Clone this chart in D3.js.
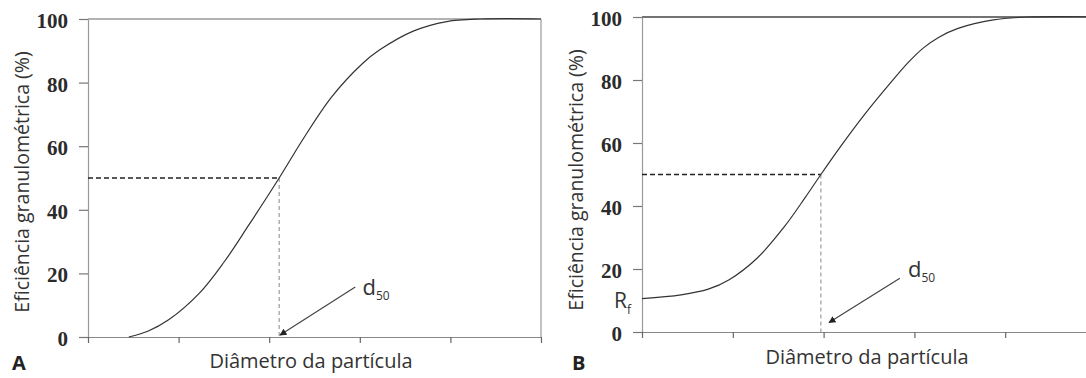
<!DOCTYPE html>
<html>
<head>
<meta charset="utf-8">
<script src="https://cdn.jsdelivr.net/npm/d3@7"></script>
<style>
  body { margin: 0; background: #fff; }
  svg { display: block; }
  .tick-label { font-family: "Liberation Serif", serif; font-weight: bold; font-size: 21px; fill: #2b2b2b; }
  .title { font-family: "Open Sans", sans-serif; font-size: 19.5px; fill: #333; }
  .panel-letter { font-family: "Open Sans", sans-serif; font-weight: bold; font-size: 20px; fill: #222; }
</style>
</head>
<body>
<script>
// data (x in tick units, y in %)
var xTicks = [0, 1, 2, 3, 4, 5];
var yTicks = [0, 20, 40, 60, 80, 100];

var diamA = [0.45, 0.66, 0.89, 1.23, 1.50, 1.77, 2.11, 2.38, 2.69, 3.03, 3.22, 3.59, 3.96, 4.33, 5.0];
var effA  = [0, 1.8, 5.4, 13.8, 23.5, 35, 50, 62.5, 75.5, 86, 90.3, 96.2, 99.2, 100, 100];

var diamB = [0, 0.43, 0.73, 0.96, 1.27, 1.57, 1.80, 1.97, 2.19, 2.45, 2.72, 2.93, 3.10, 3.27, 3.48, 3.87, 4.25, 5.1];
var effB  = [10.6, 11.8, 13.6, 16.6, 23.5, 33.5, 42.8, 50, 59, 69, 78.5, 85.5, 90.2, 93.6, 96.4, 99.1, 100, 100];

var d50A = 2.11, d50B = 1.97;
var rfB = 10.6;

var width = 1086, height = 378;

var svg = d3.select("body").append("svg")
    .attr("width", width)
    .attr("height", height);

svg.append("rect").attr("width", width).attr("height", height).attr("fill", "#fff");

var defs = svg.append("defs");
defs.append("marker")
    .attr("id", "head")
    .attr("viewBox", "0 0 10 10")
    .attr("refX", 9).attr("refY", 5)
    .attr("markerWidth", 7).attr("markerHeight", 7)
    .attr("markerUnits", "userSpaceOnUse")
    .attr("orient", "auto")
    .append("path")
    .attr("d", "M0,0L10,5L0,10Z")
    .attr("fill", "#222");

function panel(opt) {
    var x = d3.scaleLinear().domain([0, 5]).range([opt.left, opt.right]);
    var y = d3.scaleLinear().domain([0, 100]).range([opt.bottom, opt.top]);
    var g = svg.append("g");

    // frame on top (and right for A)
    g.append("line")
        .attr("x1", x(0)).attr("x2", opt.frameRight)
        .attr("y1", y(100)).attr("y2", y(100))
        .attr("stroke", opt.topColor).attr("stroke-width", 1.3);
    if (opt.rightBorder) {
        g.append("line")
            .attr("x1", x(5)).attr("x2", x(5))
            .attr("y1", y(100)).attr("y2", y(0))
            .attr("stroke", "#999").attr("stroke-width", 1.2);
    }

    // axes
    var yAxis = g.append("g")
        .attr("transform", "translate(" + x(0) + ",0)")
        .call(d3.axisLeft(y).tickValues(yTicks).tickSize(9).tickSizeOuter(0).tickPadding(11));
    yAxis.select(".domain").attr("stroke", "#999").attr("stroke-width", 1.2);
    yAxis.selectAll(".tick line").attr("stroke", "#777").attr("stroke-width", 1.2);
    yAxis.selectAll(".tick text").attr("class", "tick-label").attr("dy", "0.4em");

    var xAxis = g.append("g")
        .attr("transform", "translate(0," + y(0) + ")")
        .call(d3.axisBottom(x).tickValues(xTicks).tickSize(6).tickSizeOuter(0).tickFormat(""));
    xAxis.select(".domain").attr("stroke", "#888").attr("stroke-width", 1.2);
    xAxis.selectAll(".tick line").attr("stroke", "#666").attr("stroke-width", 1.2);

    // d50 guides
    g.append("line")
        .attr("x1", x(0)).attr("x2", x(opt.d50))
        .attr("y1", y(50)).attr("y2", y(50))
        .attr("stroke", "#222").attr("stroke-width", 1.3)
        .attr("stroke-dasharray", "5,3");
    g.append("line")
        .attr("x1", x(opt.d50)).attr("x2", x(opt.d50))
        .attr("y1", y(50)).attr("y2", y(0))
        .attr("stroke", "#888").attr("stroke-width", 1)
        .attr("stroke-dasharray", "4,3");

    // curve
    var pts = opt.diam.map(function (d, i) { return [d, opt.eff[i]]; });
    var line = d3.line()
        .x(function (d) { return x(d[0]); })
        .y(function (d) { return y(d[1]); })
        .curve(d3.curveCatmullRom.alpha(0.5));
    g.append("path")
        .datum(pts)
        .attr("d", line)
        .attr("fill", "none")
        .attr("stroke", "#333")
        .attr("stroke-width", 1.2);

    // arrow + d50 label
    g.append("line")
        .attr("x1", x(opt.arrow[0])).attr("y1", y(opt.arrow[1]))
        .attr("x2", x(opt.arrow[2])).attr("y2", y(opt.arrow[3]))
        .attr("stroke", "#444").attr("stroke-width", 1.2)
        .attr("marker-end", "url(#head)");
    var lbl = g.append("text")
        .attr("class", "title")
        .attr("x", x(opt.label[0])).attr("y", y(opt.label[1]))
        .style("font-size", "22px");
    lbl.append("tspan").text("d");
    lbl.append("tspan").attr("dy", 5).style("font-size", "12px").text("50");

    // titles
    g.append("text")
        .attr("class", "title")
        .attr("text-anchor", "middle")
        .attr("transform", "translate(" + opt.yTitleX + "," + opt.yTitleY + ") rotate(-90)")
        .text("Eficiência granulométrica (%)");
    g.append("text")
        .attr("class", "title")
        .attr("text-anchor", "middle")
        .style("font-size", "20px")
        .attr("x", opt.xTitleX).attr("y", opt.xTitleY)
        .text("Diâmetro da partícula");
    g.append("text")
        .attr("class", "panel-letter")
        .attr("x", opt.letterX).attr("y", opt.letterY)
        .text(opt.letter);

    return { x: x, y: y, g: g };
}

panel({
    left: 88, right: 541, top: 19, bottom: 337,
    frameRight: 541, rightBorder: true, topColor: "#999",
    diam: diamA, eff: effA, d50: d50A,
    arrow: [2.95, 15.7, 2.12, 0.6],
    label: [3.03, 13.2],
    yTitleX: 29, yTitleY: 182,
    xTitleX: 311, xTitleY: 368,
    letter: "A", letterX: 12, letterY: 370
});

var pB = panel({
    left: 642, right: 1096, top: 17, bottom: 332,
    frameRight: 1086, rightBorder: false, topColor: "#444",
    diam: diamB, eff: effB, d50: d50B,
    arrow: [2.84, 17.1, 2.06, 3.0],
    label: [2.93, 17.5],
    yTitleX: 583, yTitleY: 180,
    xTitleX: 867, xTitleY: 364,
    letter: "B", letterX: 572, letterY: 370
});

// Rf label on panel B
var rf = pB.g.append("text")
    .attr("class", "title")
    .style("font-size", "21px")
    .attr("x", pB.x(0) - 28).attr("y", pB.y(rfB) + 9);
rf.append("tspan").text("R");
rf.append("tspan").attr("dy", 6).style("font-size", "12px").text("f");
</script>
</body>
</html>
